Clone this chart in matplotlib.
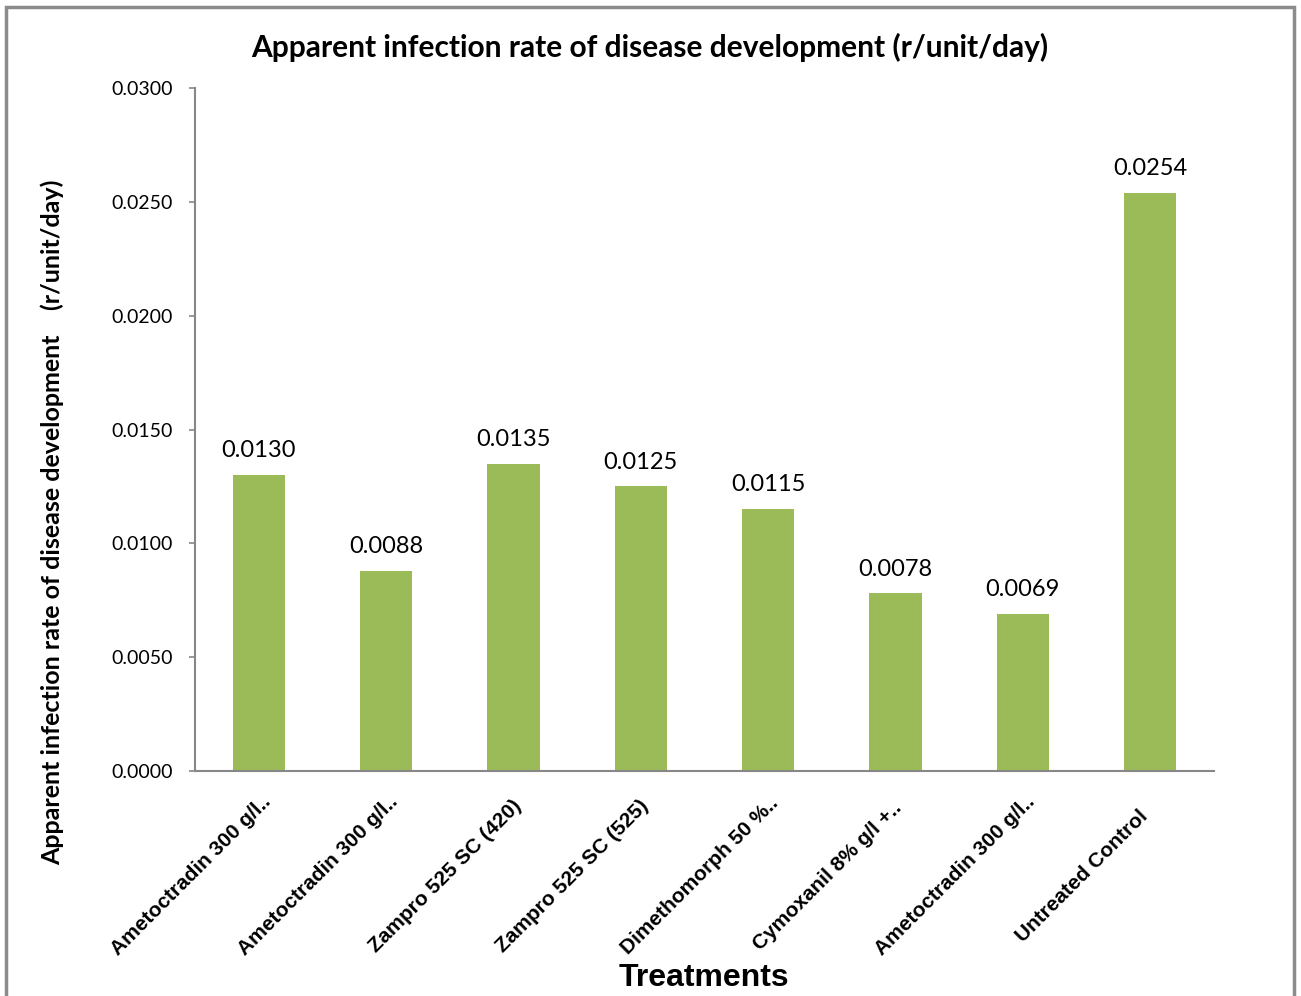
import matplotlib
matplotlib.use("Agg")
import matplotlib.pyplot as plt
from matplotlib.patches import Rectangle
from matplotlib.transforms import ScaledTranslation

categories = [
    "Ametoctradin 300 g/l..",
    "Ametoctradin 300 g/l..",
    "Zampro 525 SC (420)",
    "Zampro 525 SC (525)",
    "Dimethomorph 50 %..",
    "Cymoxanil 8% g/l +..",
    "Ametoctradin 300 g/l..",
    "Untreated Control",
]
values = [0.0130, 0.0088, 0.0135, 0.0125, 0.0115, 0.0078, 0.0069, 0.0254]
yticks = [0.0, 0.005, 0.010, 0.015, 0.020, 0.025, 0.030]

W, H = 1301, 996
fig = plt.figure(figsize=(W / 100, H / 100), dpi=100)
ax = fig.add_axes([195 / W, 1 - 771 / H, (1214 - 195) / W, (771 - 88) / H])

gray = "#878787"
x = list(range(len(categories)))
ax.bar(x, values, width=0.41, color="#9BBB59", zorder=2)
ax.set_xlim(-0.5, len(categories) - 0.5)
ax.set_ylim(0, 0.03)
ax.set_yticks(yticks)
ax.set_yticklabels([f"{v:.4f}" for v in yticks], family="Lato", fontsize=14)
ax.tick_params(axis="y", length=4, width=1.2, color=gray, pad=12)
ax.tick_params(axis="x", length=0, pad=0)

for s in ["top", "right"]:
    ax.spines[s].set_visible(False)
for s in ["left", "bottom"]:
    ax.spines[s].set_color(gray)
    ax.spines[s].set_linewidth(1.5)

for xi, v in zip(x, values):
    ax.annotate(f"{v:.4f}", (xi, v), xytext=(0, 10), textcoords="offset points",
                ha="center", va="bottom", family="Lato", fontsize=17)

ax.set_xticks(x)
ax.set_xticklabels(categories, rotation=45, ha="center", va="center",
                   rotation_mode="anchor", family="Liberation Sans",
                   fontweight="bold", fontsize=15)
off = ScaledTranslation(-0.68, -1.05, fig.dpi_scale_trans)
for lbl in ax.get_xticklabels():
    lbl.set_transform(lbl.get_transform() + off)

fig.text(704 / W, 1 - 978 / H, "Treatments", ha="center", va="center",
         family="Liberation Sans", fontweight="bold", fontsize=23)
fig.text(650 / W, 1 - 47 / H, "Apparent infection rate of disease development (r/unit/day)",
         ha="center", va="center", family="Lato", fontweight="bold", fontsize=21.5)
fig.text(52 / W, 1 - 522 / H,
         "Apparent infection rate of disease development    (r/unit/day)",
         rotation=90, ha="center", va="center", family="Lato",
         fontweight="bold", fontsize=18)

fig.patches.append(Rectangle((6 / W, -0.05), (1294 - 6) / W, 1.05 - 7 / H,
                             transform=fig.transFigure, fill=False,
                             edgecolor="#8C8C8C", linewidth=2.5))

fig.savefig("out.png", dpi=100)
